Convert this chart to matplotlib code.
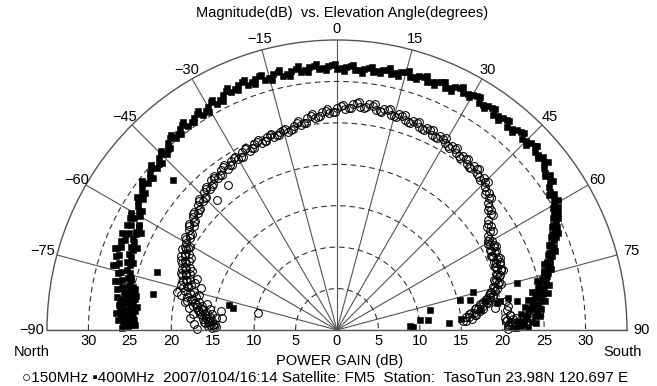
import numpy as np
import matplotlib
matplotlib.use('Agg')
import matplotlib.pyplot as plt

plt.rcParams['font.family'] = ['Liberation Sans', 'DejaVu Sans']
plt.rcParams['font.size'] = 10.5

# pass A: elevation angle (deg) and power gain (dB) for both bands
elev_a = [-89.0, -88.3, -87.5, -86.8, -86.0, -85.3, -84.5, -83.8, -83.0, -82.3, -81.5, -80.8, -80.0, -79.3, -78.5, -77.8, -77.0,
          -76, -75, -74, -73, -72, -71, -70, -69, -68, -67, -66, -65, -64, -63, -62, -61,
          -60, -58, -56, -54, -52, -50, -48, -46, -44, -42, -40, -38, -36, -34, -32, -30, -28, -26, -24, -22,
          -20, -18, -16, -14, -12, -10, -8, -6, -4, -2, 0, 2, 4, 6, 8, 10, 12, 14, 16, 18, 20,
          22, 24, 26, 28, 30, 32, 34, 36, 38, 40, 42, 44, 46, 48, 50, 52, 54, 56, 58, 60,
          61, 62, 63, 64, 65, 66, 67, 68, 69, 70, 71, 72, 73, 74, 75, 76,
          77.0, 77.8, 78.5, 79.3, 80.0, 80.8, 81.5, 82.3, 83.0, 83.8, 84.5, 85.3, 86.0, 86.8, 87.5, 88.3, 89.0]
gain150_a = [15.1, 15.6, 15.0, 15.9, 15.4, 16.2, 15.7, 16.4, 16.0, 16.8, 16.3, 17.1, 16.6, 17.4, 17.0, 17.9, 17.5,
             18.3, 17.9, 18.7, 18.4, 19.0, 18.7, 19.4, 19.0, 19.6, 19.3, 20.0, 19.7, 20.4, 20.1, 20.7, 20.5,
             21.0, 20.9, 21.6, 21.4, 22.1, 21.9, 22.6, 22.4, 23.1, 22.9, 23.6, 23.3, 23.8, 23.5, 24.1, 23.8, 24.3, 24.0, 24.6, 24.3,
             24.8, 24.5, 24.9, 24.6, 25.2, 25.1, 25.8, 25.7, 26.4, 26.2, 26.8, 26.7, 27.3, 27.1, 27.5, 27.0, 27.3, 26.8, 27.1, 26.6, 26.9,
             26.4, 26.7, 26.2, 26.5, 26.0, 26.2, 25.7, 25.9, 25.4, 25.8, 25.3, 25.5, 24.8, 24.7, 23.8, 23.6, 22.6, 22.4, 21.5, 21.6,
             21.1, 21.4, 20.9, 21.2, 20.8, 21.2, 20.8, 21.2, 20.7, 21.0, 20.4, 20.6, 20.0, 20.2, 19.6, 19.7,
             18.8, 18.9, 18.3, 18.4, 17.7, 17.9, 17.2, 17.4, 16.6, 16.8, 16.0, 16.3, 15.6, 20.6, 21.2, 20.8, 21.4]
gain400_a = [25.2, 24.6, 25.5, 24.9, 25.6, 25.0, 25.8, 25.1, 26.0, 25.3, 25.9, 25.2, 26.1, 25.4, 26.3, 25.7, 26.6,
             26.0, 27.0, 26.4, 27.5, 26.6, 27.8, 26.7, 27.9, 26.8, 27.8, 26.9, 27.7, 27.0, 27.9, 27.1, 28.0,
             27.4, 28.3, 28.2, 29.1, 28.9, 29.5, 29.3, 29.9, 29.6, 30.4, 30.3, 30.8, 30.5, 30.9, 30.6, 31.1, 30.9, 31.5, 31.4, 31.9,
             31.5, 31.9, 31.4, 31.8, 31.4, 31.8, 31.5, 31.9, 31.6, 31.9, 31.5, 31.8, 31.4, 31.7, 31.5, 31.9, 31.6, 32.1, 31.8, 32.2, 31.9,
             32.3, 32.0, 32.6, 32.4, 32.8, 32.3, 32.6, 32.1, 32.5, 32.0, 32.4, 32.1, 32.5, 32.1, 32.4, 31.7, 31.8, 30.9, 30.9, 30.2,
             30.5, 29.7, 29.9, 29.0, 29.3, 28.4, 28.7, 27.8, 28.1, 27.2, 27.5, 26.6, 26.9, 26.0, 26.4, 25.5,
             25.9, 25.0, 25.5, 24.6, 25.2, 24.2, 24.9, 23.8, 24.5, 23.5, 24.2, 23.1, 23.9, 22.8, 23.5, 22.4, 23.1]

# pass B
elev_b = [-88.7, -87.9, -87.2, -86.4, -85.7, -84.9, -84.2, -83.4, -82.7, -81.9, -81.2, -80.4, -79.7, -78.9, -78.2, -77.4, -76.5,
          -75.5, -74.5, -73.5, -72.5, -71.5, -70.5, -69.5, -68.5, -67.5, -66.5, -65.5, -64.5, -63.5, -62.5, -61.5,
          -59, -57, -55, -53, -51, -49, -47, -45, -43, -41, -39, -37, -35, -33, -31, -29, -27, -25, -23, -21,
          -19, -17, -15, -13, -11, -9, -7, -5, -3, -1, 1, 3, 5, 7, 9, 11, 13, 15, 17, 19,
          21, 23, 25, 27, 29, 31, 33, 35, 37, 39, 41, 43, 45, 47, 49, 51, 53, 55, 57, 59,
          60.5, 61.5, 62.5, 63.5, 64.5, 65.5, 66.5, 67.5, 68.5, 69.5, 70.5, 71.5, 72.5, 73.5, 74.5, 75.5,
          76.5, 77.4, 78.2, 78.9, 79.7, 80.4, 81.2, 81.9, 82.7, 83.4, 84.2, 84.9, 85.7, 86.4, 87.2, 87.9, 88.7]
gain150_b = [14.6, 15.3, 14.8, 15.6, 15.1, 15.9, 15.4, 16.6, 15.8, 17.0, 16.5, 17.6, 17.2, 18.4, 18.0, 19.3, 19.8,
             18.9, 19.3, 18.9, 19.5, 19.2, 19.8, 19.5, 20.1, 19.8, 20.4, 20.1, 20.8, 20.5, 21.1, 20.9,
             21.3, 21.1, 21.8, 21.6, 22.3, 22.1, 22.8, 22.6, 23.2, 23.0, 23.6, 23.4, 24.0, 23.7, 24.2, 23.9, 24.5, 24.2, 24.7, 24.4,
             24.9, 24.6, 25.0, 24.8, 25.4, 25.3, 26.0, 25.8, 26.5, 26.3, 27.0, 26.8, 27.5, 27.0, 27.4, 26.9, 27.2, 26.7, 27.0, 26.5,
             26.8, 26.3, 26.6, 26.1, 26.4, 25.9, 26.1, 25.6, 25.8, 25.3, 25.7, 25.2, 25.3, 24.6, 24.3, 23.6, 23.2, 22.3, 22.0, 21.4,
             21.0, 21.5, 20.8, 21.4, 20.7, 21.3, 20.6, 21.3, 20.6, 21.1, 20.3, 20.8, 19.9, 20.4, 19.5, 19.9,
             19.0, 19.3, 18.4, 18.8, 17.6, 20.7, 16.9, 20.9, 16.3, 20.6, 15.7, 21.0, 15.2, 21.3, 20.9, 21.5, 20.7]
gain400_b = [24.9, 25.9, 24.5, 26.1, 24.8, 26.3, 25.0, 24.3, 25.6, 26.4, 24.7, 26.0, 24.9, 26.5, 25.2, 27.0, 25.6,
             27.3, 25.9, 27.8, 26.2, 28.1, 26.4, 28.3, 26.5, 28.2, 26.7, 28.0, 26.9, 28.3, 27.0, 28.4,
             27.9, 28.6, 28.7, 29.4, 29.1, 29.8, 29.4, 30.1, 29.9, 30.7, 30.4, 31.0, 30.6, 31.1, 30.8, 31.4, 31.1, 31.8, 31.6, 32.0,
             31.6, 32.0, 31.5, 31.9, 31.5, 31.9, 31.6, 32.0, 31.7, 32.0, 31.6, 31.9, 31.5, 31.8, 31.7, 32.0, 31.8, 32.2, 31.9, 32.3,
             32.1, 32.5, 32.2, 32.8, 32.5, 32.9, 32.4, 32.7, 32.3, 32.6, 32.2, 32.6, 32.2, 32.6, 32.2, 32.2, 31.5, 31.4, 30.6, 30.6,
             30.0, 30.1, 29.4, 29.5, 28.8, 28.9, 28.2, 28.3, 27.6, 27.7, 27.0, 27.1, 26.5, 26.6, 25.9, 26.2,
             25.2, 16.5, 24.8, 18.2, 24.5, 19.6, 23.9, 17.4, 24.0, 11.0, 23.3, 15.0, 23.0, 13.6, 22.6, 9.2, 22.2]

# pass C
elev_c = [-89.5, -88.5, -87.5, -86.5, -85.5, -84.5, -83.5, -82.5, -81.5, -80.5, -79.5, -78.5,
          -77.5, -75.8, -73.8, -71.8, -69.8, -67.8, -65.8, -63.8,
          -60.5, -58.5, -56.5, -54.5, -52.5, -50.5, -48.5, -46.5, -44.5, -42.5,
          -40.5, -38.5, -36.5, -34.5, -32.5, -30.5, -28.5, -26.5, -24.5, -22.5,
          -20.5, -18.5, -16.5, -14.5, -12.5, -10.5, -8.5, -6.5, -4.5, -2.5, -0.5,
          1.5, 3.5, 5.5, 7.5, 9.5, 11.5, 13.5, 15.5, 17.5, 19.5,
          21.5, 23.5, 25.5, 27.5, 29.5, 31.5, 33.5, 35.5, 37.5, 39.5,
          41.5, 43.5, 45.5, 47.5, 49.5, 51.5, 53.5, 55.5, 57.5, 59.5,
          62.2, 64.2, 66.2, 68.2, 70.2, 72.2, 74.2, 76.2,
          78.0, 79.0, 80.0, 81.0, 82.0, 83.0, 84.0, 85.0, 86.0, 87.0, 88.0, 89.5]
gain150_c = [16.9, 14.9, 17.3, 16.1, 17.8, 14.7, 17.5, 15.2, 18.1, 15.6, 18.6, 16.0,
             18.6, 17.2, 19.6, 18.0, 20.0, 18.9, 20.6, 19.6,
             20.4, 21.5, 21.0, 22.0, 21.6, 22.4, 22.0, 23.0, 22.5, 23.4,
             23.1, 23.8, 23.3, 24.1, 23.6, 24.3, 23.8, 24.6, 24.1, 24.8,
             24.3, 25.0, 24.5, 25.1, 24.8, 25.6, 25.3, 26.2, 25.9, 26.7, 26.3,
             27.2, 26.9, 27.7, 27.1, 27.6, 26.9, 27.4, 26.7, 27.2, 26.5,
             27.0, 26.3, 26.8, 26.1, 26.6, 25.8, 26.3, 25.5, 26.0, 25.3,
             25.9, 25.0, 25.5, 24.3, 24.5, 23.3, 23.4, 22.0, 22.3, 21.2,
             21.7, 20.6, 21.5, 20.5, 21.3, 20.1, 20.6, 19.1,
             19.3, 17.9, 18.5, 17.0, 17.8, 16.1, 16.9, 20.9, 21.6, 20.4, 21.1, 20.6]
gain400_c = [26.0, 24.4, 26.4, 24.7, 26.7, 24.5, 26.5, 24.8, 26.8, 24.6, 27.0, 24.9,
             27.4, 25.6, 28.2, 25.9, 28.6, 26.1, 28.5, 26.4,
             28.6, 27.6, 29.0, 28.5, 29.6, 28.8, 30.0, 29.2, 30.3, 29.8,
             30.9, 30.2, 31.2, 30.4, 31.3, 30.5, 31.6, 30.9, 32.1, 31.3,
             32.2, 31.3, 32.1, 31.2, 32.1, 31.2, 32.2, 31.3, 32.2, 31.4, 32.1,
             31.3, 32.1, 31.2, 32.0, 31.4, 32.3, 31.5, 32.4, 31.7, 32.5,
             31.8, 32.7, 32.0, 33.0, 32.3, 33.0, 32.1, 32.8, 32.0, 32.7,
             31.9, 32.7, 31.9, 32.8, 31.9, 32.5, 31.2, 31.7, 30.3, 31.0,
             30.2, 28.9, 29.1, 27.5, 28.0, 26.2, 26.9, 24.9,
             26.2, 24.0, 25.8, 23.4, 25.3, 22.9, 24.8, 22.3, 24.5, 21.9, 24.0, 21.6]

# stray samples
extra150_elev = [-77.8, -36.9, -42.7, -73.0, -80.5, -84.0, -70.0, 86.0, 88.5, 82.0]
extra150_gain = [9.7, 21.9, 21.3, 17.2, 14.2, 14.0, 18.0, 20.3, 21.0, 19.2]
extra400_elev = [-47.5, -79.0, -72.0, -78.0, -77.0, 76.3, 77.9, 83.0, 74.5, 79.5, 81.0, 86.5, 75.5, 80.0]
extra400_gain = [26.8, 22.6, 22.8, 12.8, 13.4, 15.3, 11.5, 10.1, 17.0, 21.0, 22.0, 8.8, 22.5, 20.0]

angle_ticks = list(range(-90, 91, 15))
gain_ticks = [5, 10, 15, 20, 25, 30]
rmax = 35

fig = plt.figure(figsize=(6.57, 3.86), dpi=100)
# polar wedge is fitted into a square box, so the half disc sits in the top 3/4
# of a square axes: radius 290 px, centre at (337, 56) px from bottom-left
ax = fig.add_axes([47/657, -89/386, 580/657, 580/386], projection='polar')
ax.set_theta_zero_location('N')
ax.set_theta_direction(-1)
ax.set_thetamin(-90)
ax.set_thetamax(90)
ax.set_ylim(0, rmax)

ax.set_xticks(np.deg2rad(angle_ticks))
ax.set_xticklabels([])
ax.set_yticks(gain_ticks)
ax.set_yticklabels([])
ax.tick_params(length=0)
ax.xaxis.grid(True, color='#555555', lw=0.8, ls='-')
ax.yaxis.grid(True, color='#333333', lw=0.8, ls=(0, (5, 3.5)))
for s in ax.spines.values():
    s.set_color('#555555')
    s.set_linewidth(1.0)

e150 = elev_a + elev_b + elev_c + extra150_elev
g150 = gain150_a + gain150_b + gain150_c + extra150_gain
e400 = elev_a + elev_b + elev_c + extra400_elev
g400 = gain400_a + gain400_b + gain400_c + extra400_gain

ax.plot(np.deg2rad(e400), g400, 's', ms=3.9, color='black', mec='black', mew=0.4, ls='none', clip_on=False)
ax.plot(np.deg2rad(e150), g150, 'o', ms=5.6, mfc='none', mec='black', mew=0.75, ls='none', clip_on=False)

# angle labels round the arc
for a in angle_ticks:
    lab = str(a) if a >= 0 else '\u2212' + str(-a)
    rr = 36.8 if abs(a) >= 75 else 36.3
    ax.text(np.deg2rad(a), rr, lab, ha='center', va='center')

# gain labels along the baseline
for g in gain_ticks:
    for side in (-90, 90):
        ax.annotate(str(g), xy=(np.deg2rad(side), g), xytext=(0, -8), textcoords='offset points',
                    ha='center', va='center')
ax.annotate('0', xy=(0, 0), xytext=(0, -8), textcoords='offset points', ha='center', va='center')

fig.text(342/657, 1 - 13/386, 'Magnitude(dB)  vs. Elevation Angle(degrees)', ha='center', va='center')
fig.text(32/657, 1 - 352/386, 'North', ha='center', va='center')
fig.text(623/657, 1 - 352/386, 'South', ha='center', va='center')
fig.text(340/657, 1 - 361/386, 'POWER GAIN (dB)', ha='center', va='center')
fig.text(325/657, 1 - 378/386,
         '\u25cb150MHz \u25aa400MHz  2007/0104/16:14 Satellite: FM5  Station:  TasoTun 23.98N 120.697 E',
         ha='center', va='center', fontsize=11)

fig.savefig('out.png', dpi=100)
